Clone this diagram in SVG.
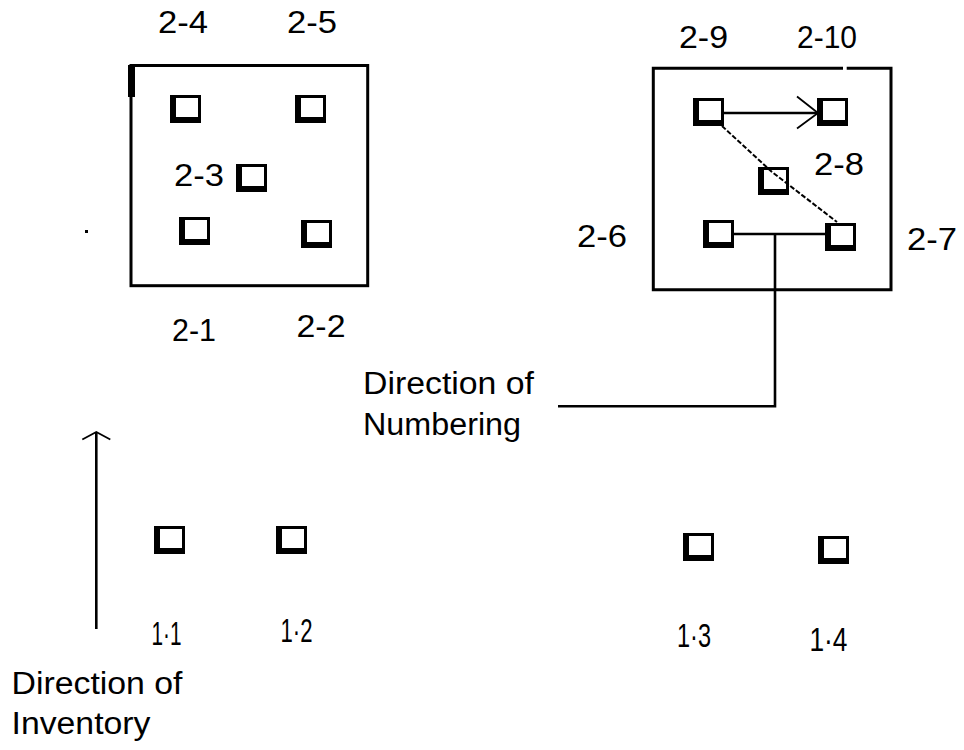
<svg xmlns="http://www.w3.org/2000/svg" xmlns:xlink="http://www.w3.org/1999/xlink" width="964" height="750" viewBox="0 0 964 750">
  <style>
    text { font-family: "Liberation Sans", Arial, sans-serif; fill: #000; }
    .lbl { font-size: 32px; }
    .lbl1 { font-size: 33px; }
    .word { font-size: 31px; }
    .frame { fill: none; stroke: #000; stroke-width: 3; }
    .wire { fill: none; stroke: #000; stroke-width: 2.6; }
    .thin { fill: none; stroke: #000; stroke-width: 1.8; }
    .dash { fill: none; stroke: #000; stroke-width: 2; stroke-dasharray: 5 2; }
  </style>
  <defs>
    <!-- marker square: heavy left/bottom border -->
    <g id="sq">
      <rect x="0" y="0" width="31" height="28" fill="#000"/>
      <rect x="6" y="3" width="22" height="19" fill="#fff"/>
    </g>
  </defs>
  <rect width="964" height="750" fill="#fff"/>

  <!-- left block -->
  <g id="block-left">
    <rect class="frame" x="131" y="65.5" width="236.7" height="220.2"/>
    <rect x="128" y="65" width="7" height="32" fill="#000"/>
  </g>
  <!-- right block, top edge broken near the corner -->
  <g id="block-right">
    <path class="frame" d="M843 68.3 H653.3 V289.7 H891 V68.3 H846.7"/>
  </g>

  <g id="n2-4"><use xlink:href="#sq" x="170" y="95"/><text class="lbl" x="158" y="33" textLength="50" lengthAdjust="spacingAndGlyphs">2-4</text></g>
  <g id="n2-5"><use xlink:href="#sq" x="295" y="95"/><text class="lbl" x="287" y="33" textLength="50" lengthAdjust="spacingAndGlyphs">2-5</text></g>
  <g id="n2-3"><use xlink:href="#sq" x="236" y="164"/><text class="lbl" x="174" y="186" textLength="50" lengthAdjust="spacingAndGlyphs">2-3</text></g>
  <g id="n2-1"><use xlink:href="#sq" x="179" y="217"/><text class="lbl" x="172" y="341" textLength="44" lengthAdjust="spacingAndGlyphs">2-1</text></g>
  <g id="n2-2"><use xlink:href="#sq" x="301" y="220"/><text class="lbl" x="296.5" y="337" textLength="49" lengthAdjust="spacingAndGlyphs">2-2</text></g>

  <g id="n2-9"><use xlink:href="#sq" x="693" y="98"/><text class="lbl" x="679" y="48" textLength="49" lengthAdjust="spacingAndGlyphs">2-9</text></g>
  <g id="n2-10"><use xlink:href="#sq" x="817" y="98"/><text class="lbl" x="797" y="48" textLength="60" lengthAdjust="spacingAndGlyphs">2-10</text></g>
  <g id="n2-8"><use xlink:href="#sq" x="758" y="167"/><text class="lbl" x="814" y="175" textLength="50" lengthAdjust="spacingAndGlyphs">2-8</text></g>
  <g id="n2-6"><use xlink:href="#sq" x="703" y="220"/><text class="lbl" x="577" y="246.7" textLength="50" lengthAdjust="spacingAndGlyphs">2-6</text></g>
  <g id="n2-7"><use xlink:href="#sq" x="825" y="223"/><text class="lbl" x="907" y="250" textLength="50" lengthAdjust="spacingAndGlyphs">2-7</text></g>

  <g id="n1-1"><use xlink:href="#sq" x="154" y="526"/><text class="lbl1" x="151.5" y="645" textLength="30" lengthAdjust="spacingAndGlyphs">1·1</text></g>
  <g id="n1-2"><use xlink:href="#sq" x="276" y="526"/><text class="lbl1" x="280.5" y="641.7" textLength="32" lengthAdjust="spacingAndGlyphs">1·2</text></g>
  <g id="n1-3"><use xlink:href="#sq" x="683" y="533"/><text class="lbl1" x="677" y="647.3" textLength="34" lengthAdjust="spacingAndGlyphs">1·3</text></g>
  <g id="n1-4"><use xlink:href="#sq" x="818" y="536"/><text class="lbl1" x="809.5" y="650.7" textLength="38" lengthAdjust="spacingAndGlyphs">1·4</text></g>

  <g id="note-numbering">
    <text class="word" x="363" y="393.5" textLength="171" lengthAdjust="spacingAndGlyphs">Direction of</text>
    <text class="word" x="363" y="434.5" textLength="158" lengthAdjust="spacingAndGlyphs">Numbering</text>
  </g>
  <g id="note-inventory">
    <text class="word" x="11.5" y="693.5" textLength="171" lengthAdjust="spacingAndGlyphs">Direction of</text>
    <text class="word" x="11.5" y="734" textLength="139" lengthAdjust="spacingAndGlyphs">Inventory</text>
  </g>

  <rect x="85" y="230" width="3" height="3" fill="#000"/>

  <g id="connectors">
    <!-- 2-9 to 2-10 with open arrowhead -->
    <line class="wire" x1="724" y1="113" x2="817" y2="113" stroke-width="2.2"/>
    <polyline class="thin" points="797,96.5 818,113 797,128.5"/>
    <!-- 2-9 through 2-8 to 2-7 -->
    <polyline class="dash" points="722,126 772,172 837,222"/>
    <!-- 2-6 to 2-7 and leader to the note -->
    <line class="wire" x1="732" y1="234" x2="825" y2="234"/>
    <polyline class="wire" points="775,234 775,406.3 558,406.3"/>
    <!-- inventory direction arrow -->
    <line class="wire" x1="96.3" y1="432" x2="96.3" y2="629"/>
    <polyline class="thin" points="82.3,439.5 96.3,432 110.3,439.5"/>
  </g>
</svg>
